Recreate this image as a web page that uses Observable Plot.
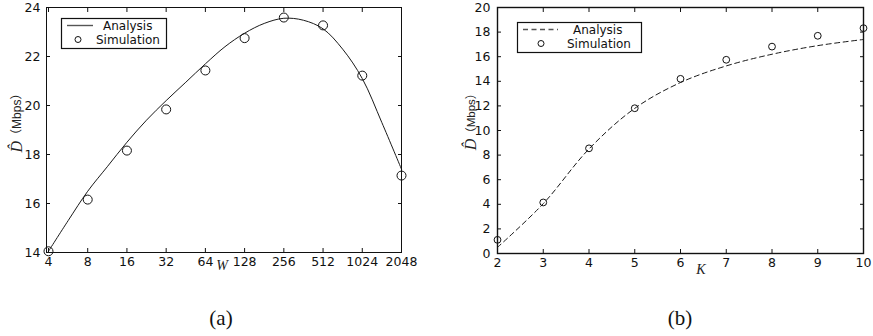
<!DOCTYPE html>
<html>
<head>
<meta charset="utf-8">
<script src="https://cdn.jsdelivr.net/npm/d3@7"></script>
<script src="https://cdn.jsdelivr.net/npm/@observablehq/plot@0.6"></script>
<style>
  html, body { margin: 0; padding: 0; background: white; }
  #wrap { position: relative; width: 873px; height: 336px; overflow: hidden; background: white; }
  #pa, #pb { position: absolute; top: 0; }
  #pa { left: 0; }
  #pb { left: 440px; }
  #overlay { position: absolute; left: 0; top: 0; }
</style>
</head>
<body>
<div id="wrap">
  <div id="pa"></div>
  <div id="pb"></div>
  <svg id="overlay" width="873" height="336"></svg>
</div>
<script>
// ---------- data: panel (a) ----------
const wTicks = [4, 8, 16, 32, 64, 128, 256, 512, 1024, 2048];
const simW = [4, 8, 16, 32, 64, 128, 256, 512, 1024, 2048];
const simA = [14.05, 16.16, 18.16, 19.84, 21.43, 22.75, 23.59, 23.27, 21.22, 17.14];
const anaW = [4, 5.66, 8, 11.3, 16, 22.6, 32, 45.3, 64, 90.5, 128, 181, 256, 362, 512, 724, 1024, 1448, 2048];
const anaA = [14.05, 15.3, 16.5, 17.5, 18.5, 19.4, 20.2, 20.95, 21.7, 22.4, 22.95, 23.35, 23.56, 23.48, 23.13, 22.3, 21.1, 19.3, 17.4];
const yTicksA = [14, 16, 18, 20, 22, 24];

// ---------- data: panel (b) ----------
const kVals = [2, 3, 4, 5, 6, 7, 8, 9, 10];
const anaB = [0.5, 4.05, 8.5, 11.8, 13.9, 15.25, 16.2, 16.9, 17.4];
const simB = [1.11, 4.15, 8.55, 11.81, 14.2, 15.75, 16.82, 17.7, 18.32];
const yTicksB = [0, 2, 4, 6, 8, 10, 12, 14, 16, 18, 20];

const legendLabels = ["Analysis", "Simulation"];
const unitLabel = "\uFF08Mbps\uFF09";

const lineA = anaW.map((w, i) => ({x: w, y: anaA[i]}));
const dotA = simW.map((w, i) => ({x: w, y: simA[i]}));
const lineB = kVals.map((k, i) => ({x: k, y: anaB[i]}));
const dotB = kVals.map((k, i) => ({x: k, y: simB[i]}));

const baseStyle = {fontFamily: "'DejaVu Sans', sans-serif", fontSize: "12.5px", color: "#111", background: "white", overflow: "visible"};

function axes(xt, yt, yPad) {
  const blank = () => "";
  const T = 4;
  return [
    Plot.axisX(xt, {anchor: "bottom", tickSize: 0, tickPadding: 5, tickFormat: d => String(d), label: null}),
    Plot.axisX(xt, {anchor: "bottom", tickSize: T, dy: -T, tickFormat: blank, label: null}),
    Plot.axisX(xt, {anchor: "top", tickSize: T, dy: T, tickFormat: blank, label: null}),
    Plot.axisY(yt, {anchor: "left", tickSize: 0, tickPadding: yPad, tickFormat: d => String(d), label: null}),
    Plot.axisY(yt, {anchor: "left", tickSize: T, dx: T, tickFormat: blank, label: null}),
    Plot.axisY(yt, {anchor: "right", tickSize: T, dx: -T, tickFormat: blank, label: null})
  ];
}

const plotA = Plot.plot({
  width: 440, height: 290,
  marginLeft: 46, marginRight: 39, marginTop: 7, marginBottom: 38,
  x: {type: "log", base: 2, domain: [3.862, 2048]},
  y: {domain: [14, 24]},
  style: baseStyle,
  marks: [
    ...axes(wTicks, yTicksA, 6),
    Plot.line(lineA, {x: "x", y: "y", stroke: "#1a1a1a", strokeWidth: 1, curve: "catmull-rom"}),
    Plot.dot(dotA, {x: "x", y: "y", r: 4.5, stroke: "#111", strokeWidth: 1, fill: "none"}),
    Plot.frame({stroke: "#111", strokeWidth: 1})
  ]
});
document.getElementById("pa").appendChild(plotA);

const plotB = Plot.plot({
  width: 433, height: 290,
  marginLeft: 57, marginRight: 10, marginTop: 7, marginBottom: 37,
  x: {domain: [2, 10]},
  y: {domain: [0, 20]},
  style: baseStyle,
  marks: [
    ...axes(kVals, yTicksB, 7),
    Plot.line(lineB, {x: "x", y: "y", stroke: "#1a1a1a", strokeWidth: 1, strokeDasharray: "5,3.5", curve: "catmull-rom"}),
    Plot.dot(dotB, {x: "x", y: "y", r: 3.4, stroke: "#111", strokeWidth: 1, fill: "none"}),
    Plot.frame({stroke: "#111", strokeWidth: 1.4})
  ]
});
document.getElementById("pb").appendChild(plotB);

// ---------- legends, axis titles, captions ----------
const ov = d3.select("#overlay");
const sans = "'DejaVu Sans', sans-serif";
const serif = "'Liberation Serif', 'Times New Roman', serif";

function legend(x, y, w, h, dashed, lx1, lx2, tx1, cx, tx2) {
  const g = ov.append("g");
  g.append("rect").attr("x", x + 0.5).attr("y", y + 0.5).attr("width", w).attr("height", h)
    .attr("fill", "white").attr("stroke", "#111").attr("stroke-width", 1.2);
  const ly = y + 7.5, sy = y + 21.5;
  g.append("line").attr("x1", lx1).attr("x2", lx2).attr("y1", ly).attr("y2", ly)
    .attr("stroke", "#555").attr("stroke-width", 1.4).attr("stroke-dasharray", dashed ? "5,3.5" : null);
  g.append("text").attr("x", tx1).attr("y", ly + 4.2)
    .attr("font-family", sans).attr("font-size", 12).attr("fill", "#111").text(legendLabels[0]);
  g.append("circle").attr("cx", cx).attr("cy", sy).attr("r", 3).attr("fill", "none").attr("stroke", "#111");
  g.append("text").attr("x", tx2).attr("y", sy + 4.2)
    .attr("font-family", sans).attr("font-size", 12).attr("fill", "#111").text(legendLabels[1]);
}
legend(61, 18, 105, 30, false, 67, 93, 103, 78, 96);
legend(517, 22, 124, 30, true, 523, 558, 573, 541, 567);

function ylabel(cx, cy, uSize) {
  const t = ov.append("text").attr("transform", `translate(${cx},${cy}) rotate(-90)`)
    .attr("text-anchor", "middle").attr("dominant-baseline", "middle").attr("fill", "#222");
  t.append("tspan").attr("font-family", serif).attr("font-style", "italic").attr("font-size", 16).text("D\u0302");
  t.append("tspan").attr("font-family", "'Liberation Sans', 'Noto Sans CJK SC', sans-serif").attr("font-size", uSize).text(unitLabel);
}
ylabel(18, 120, 12);
ylabel(472, 119, 11.5);

ov.append("text").attr("x", 222).attr("y", 267).attr("text-anchor", "middle").attr("dominant-baseline", "middle")
  .attr("font-family", serif).attr("font-style", "italic").attr("font-size", 14).attr("fill", "#222").text("W");
ov.append("text").attr("x", 701).attr("y", 271).attr("text-anchor", "middle").attr("dominant-baseline", "middle")
  .attr("font-family", serif).attr("font-style", "italic").attr("font-size", 14).attr("fill", "#222").text("K");

ov.append("text").attr("x", 221).attr("y", 320).attr("text-anchor", "middle").attr("dominant-baseline", "middle")
  .attr("font-family", serif).attr("font-size", 21).attr("fill", "#111").text("(a)");
ov.append("text").attr("x", 680).attr("y", 320).attr("text-anchor", "middle").attr("dominant-baseline", "middle")
  .attr("font-family", serif).attr("font-size", 21).attr("fill", "#111").text("(b)");
</script>
</body>
</html>
